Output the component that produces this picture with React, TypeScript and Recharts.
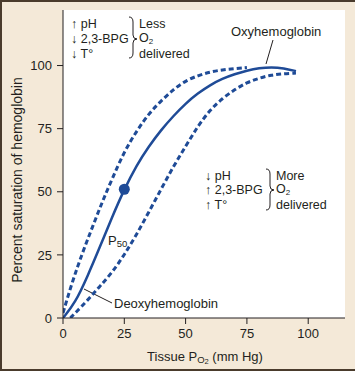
import { LineChart, Line, XAxis, YAxis, CartesianGrid, ReferenceDot, Customized } from "recharts";

// Tissue PO2 (mm Hg) and % saturation
const normalPo2 = [0, 5, 10, 15, 20, 25, 30, 35, 40, 45, 50, 55, 60, 65, 70, 75, 80, 85, 90, 95];
const normalSat = [0, 6, 16.5, 28, 40, 51, 60.5, 68, 74.5, 80, 85, 89, 92.3, 94.8, 96.6, 98, 99, 99.4, 99, 97.8];

const leftPo2 = [0, 4, 8, 12, 16, 20, 25, 30, 35, 40, 45, 50, 55, 60, 65, 70, 75];
const leftSat = [2, 15, 26, 36, 46, 55, 66, 74, 81, 86, 90.5, 94, 96, 97.5, 98.3, 98.8, 99.2];

const rightPo2 = [3, 5, 10, 15, 20, 25, 30, 35, 40, 45, 50, 55, 60, 65, 70, 75, 80, 85, 90, 95];
const rightSat = [0, 2, 7, 12.5, 18, 25, 33, 42, 51, 60, 68, 76, 82.5, 87, 90.5, 93.3, 95, 96.3, 96.8, 97];

const p50Po2 = 25;
const p50Sat = 51;

const xTicks = [0, 25, 50, 75, 100];
const yTicks = [0, 25, 50, 75, 100];

const toRows = (xs: number[], ys: number[]) => xs.map((po2, i) => ({ po2, sat: ys[i] }));
const normalRows = toRows(normalPo2, normalSat);
const leftRows = toRows(leftPo2, leftSat);
const rightRows = toRows(rightPo2, rightSat);

const BLUE = "#1f4b97";
const INK = "#231f20";
const FONT = "'Liberation Sans', Arial, sans-serif";

const brace = (x: number, y1: number, ym: number, y2: number) =>
  `M${x} ${y1} Q${x + 4} ${y1} ${x + 4} ${y1 + 5} L${x + 4} ${ym - 4} Q${x + 4} ${ym} ${x + 8} ${ym} ` +
  `Q${x + 4} ${ym} ${x + 4} ${ym + 4} L${x + 4} ${y2 - 5} Q${x + 4} ${y2} ${x} ${y2}`;

function Annotations() {
  const t = { fontFamily: FONT, fontSize: 12.5, fill: INK };
  return (
    <g>
      <text {...t} fontSize={14} transform="translate(22,180) rotate(-90)" textAnchor="middle">
        Percent saturation of hemoglobin
      </text>
      <text {...t} fontSize={13} x={205} y={361} textAnchor="middle">
        Tissue P<tspan fontSize={9.5} dy={2}>O</tspan>
        <tspan fontSize={7.5} dy={1}>2</tspan>
        <tspan dy={-3}> (mm Hg)</tspan>
      </text>

      <text {...t} x={71} y={28}>↑ pH</text>
      <text {...t} x={71} y={43}>↓ 2,3-BPG</text>
      <text {...t} x={71} y={58}>↓ T°</text>
      <path d={brace(129, 17, 39, 58)} fill="none" stroke={INK} strokeWidth={1} />
      <text {...t} x={139} y={28}>Less</text>
      <text {...t} x={139} y={42}>O<tspan fontSize={8} dy={1.5}>2</tspan></text>
      <text {...t} x={139} y={58}>delivered</text>

      <text {...t} x={205} y={180}>↓ pH</text>
      <text {...t} x={205} y={194}>↑ 2,3-BPG</text>
      <text {...t} x={205} y={209}>↑ T°</text>
      <path d={brace(266, 169, 190, 210)} fill="none" stroke={INK} strokeWidth={1} />
      <text {...t} x={276} y={180}>More</text>
      <text {...t} x={276} y={193}>O<tspan fontSize={8} dy={1.5}>2</tspan></text>
      <text {...t} x={276} y={209}>delivered</text>

      <text {...t} fontSize={13} x={231} y={36}>Oxyhemoglobin</text>
      <line x1={273} y1={40} x2={266} y2={64} stroke={INK} strokeWidth={1} />

      <text {...t} fontSize={13} x={108} y={245}>P<tspan fontSize={9.5} dy={2}>50</tspan></text>

      <text {...t} fontSize={13} x={114} y={308}>Deoxyhemoglobin</text>
      <line x1={84} y1={289} x2={112} y2={303} stroke={INK} strokeWidth={1} />
    </g>
  );
}

export default function App() {
  return (
    <div style={{ position: "absolute", left: 0, top: 0, width: 355, height: 371, background: "#f4e9d8" }}>
      <LineChart width={355} height={371} margin={{ top: 10, right: 10, left: 0, bottom: 0 }}>
        <CartesianGrid horizontal={false} vertical={false} fill="#ffffff" />
        <XAxis
          type="number"
          dataKey="po2"
          domain={[0, 115]}
          ticks={xTicks}
          allowDataOverflow
          height={53}
          tickSize={6}
          tickMargin={5}
          stroke={INK}
          tick={{ fill: INK, fontSize: 13, fontFamily: FONT }}
        />
        <YAxis
          type="number"
          domain={[0, 122]}
          ticks={yTicks}
          allowDataOverflow
          width={63}
          tickSize={6}
          tickMargin={5}
          stroke={INK}
          tick={{ fill: INK, fontSize: 13, fontFamily: FONT }}
        />
        <Line data={leftRows} dataKey="sat" type="basis" stroke={BLUE} strokeWidth={3} strokeDasharray="5 3" dot={false} isAnimationActive={false} />
        <Line data={rightRows} dataKey="sat" type="basis" stroke={BLUE} strokeWidth={3} strokeDasharray="5 3" dot={false} isAnimationActive={false} />
        <Line data={normalRows} dataKey="sat" type="basis" stroke={BLUE} strokeWidth={2.5} dot={false} isAnimationActive={false} />
        <ReferenceDot x={p50Po2} y={p50Sat} r={5.5} fill={BLUE} stroke="none" />
        <Customized component={Annotations} />
      </LineChart>
      <div
        style={{
          position: "absolute",
          left: 0,
          top: 0,
          width: 355,
          height: 371,
          boxSizing: "border-box",
          borderLeft: "2px solid #4a3b2c",
          borderTop: "2px solid #4a3b2c",
          borderBottom: "2px solid #4a3b2c",
          pointerEvents: "none",
        }}
      />
    </div>
  );
}
